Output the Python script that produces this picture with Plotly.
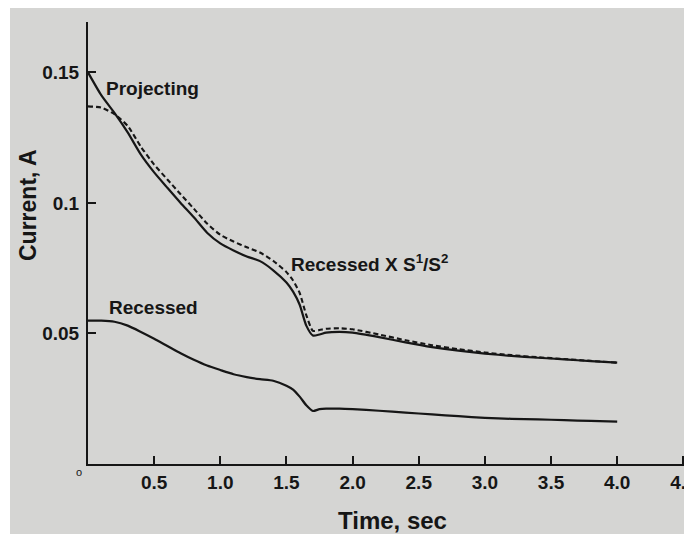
import plotly.graph_objects as go

# Time axis (s)
time_s = [0, 0.1, 0.2, 0.3, 0.4, 0.5, 0.6, 0.7, 0.8, 0.9, 1.0, 1.1, 1.2, 1.3, 1.4,
          1.5, 1.55, 1.6, 1.65, 1.7, 1.75, 1.8, 1.9, 2.0, 2.2, 2.4, 2.6, 2.8, 3.0,
          3.2, 3.4, 3.6, 3.8, 4.0]

# Projecting electrode current (A), solid
projecting = [0.150, 0.1413, 0.1345, 0.1270, 0.1185, 0.1117, 0.1058, 0.1000, 0.0945,
              0.0886, 0.0845, 0.0818, 0.0795, 0.0777, 0.0742, 0.0695, 0.0660, 0.0610,
              0.0530, 0.0492, 0.0496, 0.0503, 0.0506, 0.0503, 0.0486, 0.0466, 0.0448,
              0.0434, 0.0423, 0.0414, 0.0407, 0.0401, 0.0394, 0.0388]

# Recessed x S1/S2 (A), dashed
recessed_scaled = [0.137, 0.1365, 0.1340, 0.1295, 0.1215, 0.1147, 0.1090, 0.1033, 0.0978,
                   0.0921, 0.0878, 0.0852, 0.0830, 0.0810, 0.0778, 0.0735, 0.0703, 0.0655,
                   0.0570, 0.0510, 0.0513, 0.0518, 0.0520, 0.0516, 0.0496, 0.0474, 0.0455,
                   0.0440, 0.0427, 0.0417, 0.0409, 0.0402, 0.0395, 0.0388]

# Recessed electrode current (A), solid
recessed = [0.0549, 0.0549, 0.0545, 0.0530, 0.0506, 0.0480, 0.0452, 0.0424, 0.0399,
            0.0377, 0.0360, 0.0344, 0.0333, 0.0325, 0.0319, 0.0300, 0.0285, 0.0258,
            0.0225, 0.0203, 0.0210, 0.0212, 0.0212, 0.0210, 0.0204, 0.0197, 0.0190,
            0.0183, 0.0177, 0.0173, 0.0171, 0.0168, 0.0165, 0.0162]

x_tick_vals = [0.5, 1.0, 1.5, 2.0, 2.5, 3.0, 3.5, 4.0, 4.5]
x_tick_text = ["0.5", "1.0", "1.5", "2.0", "2.5", "3.0", "3.5", "4.0", "4.5"]
y_tick_vals = [0.05, 0.1, 0.15]
y_tick_text = ["0.05", "0.1", "0.15"]

INK = "#161616"
PAPER = "#d5d5d3"
FONT = "Liberation Sans"

fig = go.Figure()
fig.add_trace(go.Scatter(x=time_s, y=projecting, mode="lines", name="Projecting",
                         line=dict(color=INK, width=2.2, shape="spline", smoothing=0.6)))
fig.add_trace(go.Scatter(x=time_s, y=recessed_scaled, mode="lines", name="Recessed X S1/S2",
                         line=dict(color=INK, width=2.1, dash="5px,3px", shape="spline", smoothing=0.6)))
fig.add_trace(go.Scatter(x=time_s, y=recessed, mode="lines", name="Recessed",
                         line=dict(color=INK, width=2.2, shape="spline", smoothing=0.6)))

label_font = dict(family=FONT, size=19, color=INK, weight="bold")
fig.add_annotation(x=0.144, y=0.144, text="Projecting", showarrow=False, xshift=-3,
                   xanchor="left", yanchor="middle", font=label_font)
fig.add_annotation(x=1.54, y=0.077, text="Recessed X S<sup>1</sup>/S<sup>2</sup>", showarrow=False,
                   xshift=-3, xanchor="left", yanchor="middle", font=label_font)
fig.add_annotation(x=0.166, y=0.0598, text="Recessed", showarrow=False, xshift=-3,
                   xanchor="left", yanchor="middle", font=label_font)
# small origin mark
fig.add_annotation(x=-0.015, y=-0.018, xref="paper", yref="paper", text="o", showarrow=False,
                   xanchor="center", yanchor="middle",
                   font=dict(family=FONT, size=11, color=INK))
# axis titles
fig.add_annotation(x=0.51, y=-0.1267, xref="paper", yref="paper", text="Time, sec",
                   showarrow=False, xanchor="center", yanchor="middle",
                   font=dict(family=FONT, size=24, color=INK, weight="bold"))
fig.add_annotation(x=-0.1003, y=0.586, xref="paper", yref="paper", text="Current, A",
                   showarrow=False, xanchor="center", yanchor="middle", textangle=-90,
                   font=dict(family=FONT, size=23, color=INK, weight="bold"))

# thin white scan edge on the left
fig.add_shape(type="rect", xref="paper", yref="paper", x0=-0.14, x1=-0.1304, y0=-0.3, y1=1.2,
              fillcolor="white", line=dict(width=0), layer="above")

tick_font = dict(family=FONT, size=19, color=INK, weight="bold")
fig.update_layout(
    width=692, height=526,
    margin=dict(l=80, r=14, t=14, b=70),
    paper_bgcolor=PAPER, plot_bgcolor=PAPER,
    showlegend=False,
    xaxis=dict(range=[0, 4.52], tickvals=x_tick_vals, ticktext=x_tick_text,
               automargin=False, ticklabeloverflow="allow",
               showgrid=False, zeroline=False, showline=True, linecolor=INK, linewidth=2,
               ticks="inside", ticklen=8, tickwidth=2, tickcolor=INK,
               tickfont=tick_font),
    yaxis=dict(range=[0, 0.1693], tickvals=y_tick_vals, ticktext=y_tick_text,
               automargin=False, ticklabelstandoff=3,
               showgrid=False, zeroline=False, showline=True, linecolor=INK, linewidth=2,
               ticks="inside", ticklen=8, tickwidth=2, tickcolor=INK,
               tickfont=tick_font),
)

fig.write_html("out.html")
